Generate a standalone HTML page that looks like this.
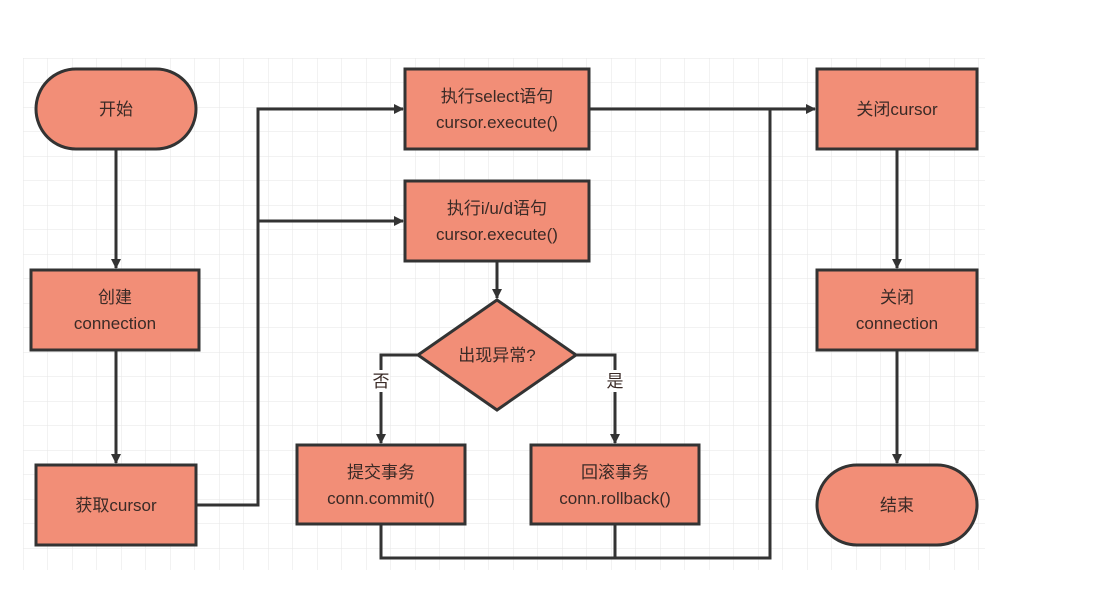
<!DOCTYPE html>
<html><head><meta charset="utf-8"><style>
body{margin:0;background:#fff;}
svg text{font-family:"Liberation Sans","Noto Sans CJK SC",sans-serif;font-size:17px;fill:#3a2a26;text-anchor:middle;}
</style></head><body>
<svg width="1094" height="587" viewBox="0 0 1094 587" xmlns="http://www.w3.org/2000/svg">
<defs>
<pattern id="g" x="23" y="58" width="24.5" height="24.5" patternUnits="userSpaceOnUse">
<path d="M0 0H24.5M0 0V24.5" stroke="#e6e6e6" stroke-width="1" fill="none"/>
</pattern>
<marker id="a" markerWidth="10" markerHeight="10" refX="9" refY="5" orient="auto" markerUnits="userSpaceOnUse" viewBox="0 0 10 10">
<path d="M0 0L10 5L0 10Z" fill="#333"/>
</marker>
</defs>
<rect x="23" y="58" width="962" height="512" fill="url(#g)"/>
<g stroke="#333" stroke-width="3" fill="none">
<path d="M116 149V268" marker-end="url(#a)"/>
<path d="M116 350V463" marker-end="url(#a)"/>
<path d="M196 505H258V109H403" marker-end="url(#a)"/>
<path d="M258 221H403" marker-end="url(#a)"/>
<path d="M589 109H815" marker-end="url(#a)"/>
<path d="M497 261V298" marker-end="url(#a)"/>
<path d="M418 355H381V443" marker-end="url(#a)"/>
<path d="M576 355H615V443" marker-end="url(#a)"/>
<path d="M381 524V558H770V109"/>
<path d="M615 524V558"/>
<path d="M897 149V268" marker-end="url(#a)"/>
<path d="M897 350V463" marker-end="url(#a)"/>
</g>
<rect x="372" y="370" width="18" height="22" fill="#fff"/>
<rect x="606" y="370" width="18" height="22" fill="#fff"/>
<text x="381" y="387">否</text>
<text x="615" y="387">是</text>
<g fill="#f28e77" stroke="#333" stroke-width="3">
<rect x="36" y="69" width="160" height="80" rx="40"/>
<rect x="31" y="270" width="168" height="80"/>
<rect x="36" y="465" width="160" height="80"/>
<rect x="405" y="69" width="184" height="80"/>
<rect x="405" y="181" width="184" height="80"/>
<path d="M497 300L576 355L497 410L418 355Z"/>
<rect x="297" y="445" width="168" height="79"/>
<rect x="531" y="445" width="168" height="79"/>
<rect x="817" y="69" width="160" height="80"/>
<rect x="817" y="270" width="160" height="80"/>
<rect x="817" y="465" width="160" height="80" rx="40"/>
</g>
<text x="116" y="115">开始</text>
<text x="115" y="303">创建</text>
<text x="115" y="329">connection</text>
<text x="116" y="511">获取cursor</text>
<text x="497" y="102">执行select语句</text>
<text x="497" y="128">cursor.execute()</text>
<text x="497" y="214">执行i/u/d语句</text>
<text x="497" y="240">cursor.execute()</text>
<text x="497" y="361">出现异常?</text>
<text x="381" y="478">提交事务</text>
<text x="381" y="504">conn.commit()</text>
<text x="615" y="478">回滚事务</text>
<text x="615" y="504">conn.rollback()</text>
<text x="897" y="115">关闭cursor</text>
<text x="897" y="303">关闭</text>
<text x="897" y="329">connection</text>
<text x="897" y="511">结束</text>
</svg>
</body></html>
